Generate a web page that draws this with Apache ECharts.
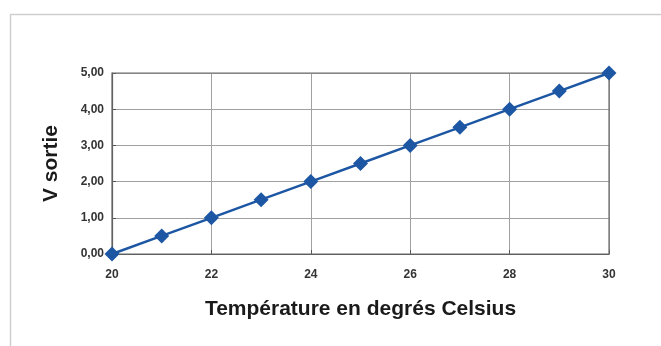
<!DOCTYPE html>
<html><head><meta charset="utf-8">
<script src="https://cdn.jsdelivr.net/npm/echarts@6/dist/echarts.min.js"></script>
<style>html,body{margin:0;padding:0;background:#fff}#c{width:661px;height:346px}</style>
</head><body><div id="c"></div>
<script>
const temperatures = [20, 21, 22, 23, 24, 25, 26, 27, 28, 29, 30];
const vSortie = [0.0, 0.5, 1.0, 1.5, 2.0, 2.5, 3.0, 3.5, 4.0, 4.5, 5.0];
const xTitle = 'Température en degrés Celsius';
const yTitle = 'V sortie';

const chart = echarts.init(document.getElementById('c'), null, {renderer: 'canvas'});
chart.setOption({
  animation: false,
  backgroundColor: '#fff',
  textStyle: {fontFamily: 'Liberation Sans, Arial, sans-serif'},
  graphic: [
    {type: 'polyline', shape: {points: [[10.5, 400], [10.5, 14.5], [700, 14.5]]}, style: {stroke: '#cfcfcf', lineWidth: 1.5, fill: null}, silent: true},
    {type: 'rect', shape: {x: 112, y: 73, width: 497, height: 181}, style: {stroke: '#6a6a6a', lineWidth: 1.2, fill: null}, z: 5, silent: true}
  ],
  grid: {left: 112, right: 52, top: 73, bottom: 92, show: false},
  xAxis: {
    type: 'value', min: 20, max: 30, interval: 2,
    name: xTitle, nameLocation: 'middle', nameGap: 45,
    nameTextStyle: {fontSize: 21, fontWeight: 'bold', color: '#1a1a1a'},
    axisLine: {show: true, lineStyle: {color: '#555', width: 1.2}},
    axisTick: {show: true, length: 4, inside: true, lineStyle: {color: '#555'}},
    axisLabel: {margin: 15, fontSize: 12, fontWeight: 'bold', color: '#333'},
    splitLine: {show: true, lineStyle: {color: '#a0a0a0', width: 1}}
  },
  yAxis: {
    type: 'value', min: 0, max: 5, interval: 1,
    name: yTitle, nameLocation: 'middle', nameGap: 50, nameRotate: 90,
    nameTextStyle: {fontSize: 21, fontWeight: 'bold', color: '#1a1a1a'},
    axisLine: {show: true, lineStyle: {color: '#555', width: 1.2}},
    axisTick: {show: true, length: 4, inside: true, lineStyle: {color: '#555'}},
    axisLabel: {margin: 8, fontSize: 12, fontWeight: 'bold', color: '#333',
      formatter: v => v.toFixed(2).replace('.', ',')},
    splitLine: {show: true, lineStyle: {color: '#a0a0a0', width: 1}}
  },
  series: [{
    type: 'line',
    data: temperatures.map((t, i) => [t, vSortie[i]]),
    symbol: 'diamond', symbolSize: 15,
    lineStyle: {color: '#1d57a3', width: 2.5},
    itemStyle: {color: '#1d57a3'},
    z: 10
  }]
});
</script></body></html>
